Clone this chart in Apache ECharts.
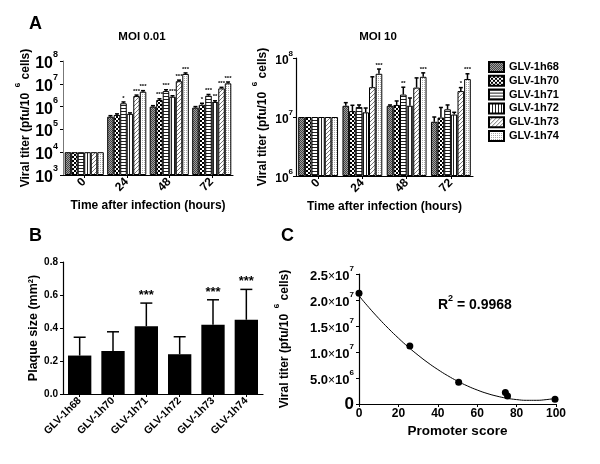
<!DOCTYPE html>
<html><head><meta charset="utf-8">
<script src="https://cdn.jsdelivr.net/npm/echarts@6/dist/echarts.min.js"></script>
<style>html,body{margin:0;padding:0;background:#fff}#c{width:600px;height:464px}</style>
</head><body><div id="c"></div>
<script>
// ---------------- DATA ----------------
const strains = ['GLV-1h68','GLV-1h70','GLV-1h71','GLV-1h72','GLV-1h73','GLV-1h74'];
const timeCats = ['0','24','48','72'];

// Panel A, MOI 0.01 (rows = strains, cols = time points)
const moi001Mean = [
  [1e4, 3.6e5, 1.0e6, 9.0e5],
  [1e4, 4.3e5, 1.95e6, 1.2e6],
  [1e4, 1.4e6, 4.8e6, 3.0e6],
  [1e4, 4.8e5, 2.7e6, 1.6e6],
  [1e4, 2.9e6, 1.3e7, 6.3e6],
  [1e4, 4.5e6, 2.7e7, 1.05e7]
];
const moi001Upper = [
  [1e4, 4.0e5, 1.1e6, 1.0e6],
  [1e4, 4.8e5, 2.2e6, 1.4e6],
  [1e4, 1.6e6, 5.5e6, 3.4e6],
  [1e4, 5.3e5, 3.0e6, 1.8e6],
  [1e4, 3.2e6, 1.45e7, 7.0e6],
  [1e4, 5.0e6, 3.0e7, 1.2e7]
];
const moi001Stars = [
  ['', '', '', ''],
  ['', '', '***', '*'],
  ['', '*', '***', '***'],
  ['', '', '***', '**'],
  ['', '***', '***', '***'],
  ['', '***', '***', '***']
];

// Panel A, MOI 10
const moi10Mean = [
  [1e7, 1.55e7, 1.55e7, 8.3e6],
  [1e7, 1.26e7, 1.6e7, 9.8e6],
  [1e7, 1.48e7, 2.4e7, 1.35e7],
  [1e7, 1.2e7, 1.55e7, 1.1e7],
  [1e7, 3.2e7, 3.15e7, 2.75e7],
  [1e7, 5.4e7, 4.8e7, 4.4e7]
];
const moi10Upper = [
  [1e7, 1.75e7, 1.6e7, 1.0e7],
  [1e7, 1.58e7, 1.87e7, 1.45e7],
  [1e7, 1.6e7, 3.2e7, 1.6e7],
  [1e7, 1.42e7, 2.1e7, 1.2e7],
  [1e7, 4.8e7, 4.6e7, 3.15e7],
  [1e7, 6.5e7, 5.6e7, 5.4e7]
];
const moi10Stars = [
  ['', '', '', ''],
  ['', '', '', ''],
  ['', '', '**', ''],
  ['', '', '', ''],
  ['', '', '', '*'],
  ['', '***', '***', '***']
];

// Panel B
const plaqueMean  = [0.233, 0.261, 0.411, 0.241, 0.419, 0.450];
const plaqueUpper = [0.344, 0.377, 0.551, 0.347, 0.571, 0.634];
const plaqueStars = ['', '', '***', '', '***', '***'];

// Panel C
const promoterScore = [0, 25.8, 50.6, 74.3, 75.4, 99.5];
const titerByScore  = [2.13e7, 1.115e7, 4.2e6, 2.2e6, 1.54e6, 0.9e6];
const fitScore = [0, 5, 10, 15, 20, 25, 30, 35, 40, 45, 50, 55, 60, 65, 70, 75, 80, 85, 90, 95, 100];
const fitTiter = [2.08e7, 1.857e7, 1.647e7, 1.450e7, 1.267e7, 1.096e7, 9.39e6, 7.94e6, 6.63e6, 5.45e6,
                  4.40e6, 3.48e6, 2.69e6, 2.03e6, 1.51e6, 1.11e6, 8.5e5, 7.1e5, 7.1e5, 8.4e5, 1.1e6];
const r2Text = '0.9968';

// ---------------- STYLE ----------------
const FONT = '"Liberation Sans", Arial, Helvetica, sans-serif';
function pat(w, h, fn) {
  const c = document.createElement('canvas'); c.width = w; c.height = h;
  const g = c.getContext('2d'); g.fillStyle = '#fff'; g.fillRect(0, 0, w, h); fn(g);
  return { image: c, repeat: 'repeat' };
}
const patterns = [
  pat(2, 2, g => { g.fillStyle = '#444'; g.fillRect(0,0,1,1); g.fillRect(1,1,1,1); g.fillStyle = '#a0a0a0'; g.fillRect(1,0,1,1); g.fillRect(0,1,1,1); }),
  pat(4, 4, g => { g.fillStyle = '#000'; g.fillRect(0,0,2,2); g.fillRect(2,2,2,2); }),
  pat(1, 3, g => { g.fillStyle = '#222'; g.fillRect(0,0,1,1); }),
  pat(3, 1, g => { g.fillStyle = '#222'; g.fillRect(0,0,1,1); }),
  pat(4, 4, g => { g.fillStyle = '#777'; for (let i = 0; i < 4; i++) g.fillRect(i, 3 - i, 1, 1); }),
  pat(2, 2, g => { g.fillStyle = '#aaa'; g.fillRect(0,0,1,1); })
];

const bold = (size, extra) => Object.assign({ fontFamily: FONT, fontWeight: 'bold', fontSize: size, color: '#000' }, extra || {});
function supRich(big, small) {
  return {
    a: bold(big, { lineHeight: big + 5, verticalAlign: 'bottom' }),
    s: bold(small, { lineHeight: big + 5, verticalAlign: 'top' }),
    x: { fontFamily: FONT, fontSize: big - 1, color: '#000', lineHeight: big + 5, verticalAlign: 'bottom' },
    z: bold(big + 4, { lineHeight: big + 5, verticalAlign: 'bottom' })
  };
}
const logFmt = v => '{a|10}{s|' + Math.round(Math.log10(v)) + '}';
const titerName = '{n|Viral titer (pfu/10 }{s| 6}{n| cells)}';
const nameRich = size => ({ n: bold(size, { lineHeight: size + 6, verticalAlign: 'bottom' }), s: bold(size - 4, { lineHeight: size + 6, verticalAlign: 'top' }) });

function errSeries(name, xi, yi, items, n, gap, cap, lw, starFont) {
  return {
    type: 'custom', name: name, xAxisIndex: xi, yAxisIndex: yi, z: 5,
    data: items.map(it => [it.cat, it.upper]),
    encode: { x: 0, y: 1 },
    renderItem: function (params, api) {
      const it = items[params.dataIndex];
      const band = api.size([1, 0])[0];
      const bw = band * (1 - gap) / n;
      const base = api.coord([it.cat, it.mean]);
      const x = base[0] + (it.bar - (n - 1) / 2) * bw;
      const yM = base[1];
      const yU = api.coord([it.cat, it.upper])[1];
      const ch = [];
      if (it.upper > it.mean) {
        ch.push({ type: 'line', shape: { x1: x, y1: yM, x2: x, y2: yU }, style: { stroke: '#000', lineWidth: lw } });
        ch.push({ type: 'line', shape: { x1: x - cap / 2, y1: yU, x2: x + cap / 2, y2: yU }, style: { stroke: '#000', lineWidth: lw } });
      }
      if (it.star) {
        ch.push({ type: 'text', x: x, y: Math.min(yU, yM) - 1,
          style: { text: it.star, fill: '#000', font: 'bold ' + starFont + 'px ' + FONT, textAlign: 'center', textVerticalAlign: 'bottom' } });
      }
      return { type: 'group', children: ch };
    }
  };
}
function groupItems(mean, upper, stars) {
  const out = [];
  mean.forEach((row, s) => row.forEach((v, c) => out.push({ cat: c, bar: s, mean: v, upper: upper[s][c], star: stars[s][c] })));
  return out;
}

// ---------------- OPTION ----------------
const series = [];
strains.forEach((nm, i) => {
  series.push({ type: 'bar', name: nm, xAxisIndex: 0, yAxisIndex: 0, data: moi001Mean[i],
    barGap: '0%', barCategoryGap: '8%', clip: true,
    itemStyle: { color: patterns[i], borderColor: '#000', borderWidth: 1 } });
});
strains.forEach((nm, i) => {
  series.push({ type: 'bar', name: nm, xAxisIndex: 1, yAxisIndex: 1, data: moi10Mean[i],
    barGap: '0%', barCategoryGap: '10%', clip: true,
    itemStyle: { color: patterns[i], borderColor: '#000', borderWidth: 1 } });
});
series.push(errSeries('errA1', 0, 0, groupItems(moi001Mean, moi001Upper, moi001Stars), 6, 0.08, 4, 1.5, 6));
series.push(errSeries('errA2', 1, 1, groupItems(moi10Mean, moi10Upper, moi10Stars), 6, 0.10, 4, 1.5, 6));
series.push({ type: 'bar', name: 'plaque', xAxisIndex: 2, yAxisIndex: 2, data: plaqueMean,
  barCategoryGap: '30%', itemStyle: { color: '#000' } });
series.push(errSeries('errB', 2, 2, plaqueMean.map((v, i) => ({ cat: i, bar: 0, mean: v, upper: plaqueUpper[i], star: plaqueStars[i] })), 1, 0.3, 12, 1.5, 13));
series.push({ type: 'line', name: 'fit', xAxisIndex: 3, yAxisIndex: 3, data: fitScore.map((x, i) => [x, fitTiter[i]]),
  smooth: true, showSymbol: false, symbol: 'none', lineStyle: { color: '#000', width: 1 }, z: 2 });
series.push({ type: 'scatter', name: 'points', xAxisIndex: 3, yAxisIndex: 3, data: promoterScore.map((x, i) => [x, titerByScore[i]]),
  symbolSize: 7, itemStyle: { color: '#000', opacity: 1 }, z: 3 });

const axisLineBlack = { show: true, lineStyle: { color: '#000', width: 1.2 } };
const tickOut = { show: true, length: 3, inside: false, lineStyle: { color: '#000', width: 1 } };

const option = {
  animation: false,
  backgroundColor: '#fff',
  grid: [
    { left: 63, top: 61, width: 170, height: 114, outerBoundsMode: 'none' },
    { left: 296, top: 58, width: 177, height: 118, outerBoundsMode: 'none' },
    { left: 63, top: 262, width: 200, height: 132, outerBoundsMode: 'none' },
    { left: 359, top: 274, width: 197, height: 130, outerBoundsMode: 'none' }
  ],
  legend: {
    data: strains, orient: 'vertical', left: 483, top: 56,
    itemWidth: 15, itemHeight: 10, itemGap: 1.8, icon: 'rect',
    textStyle: bold(11, { lineHeight: 11 }), selectedMode: false
  },
  xAxis: [
    { gridIndex: 0, type: 'category', data: timeCats, axisLine: axisLineBlack,
      axisTick: Object.assign({ alignWithLabel: true }, tickOut),
      axisLabel: bold(12, { rotate: 45, margin: 5 }),
      name: 'Time after infection (hours)', nameLocation: 'middle', nameGap: 25, nameTextStyle: bold(12) },
    { gridIndex: 1, type: 'category', data: timeCats, axisLine: axisLineBlack,
      axisTick: Object.assign({ alignWithLabel: true }, tickOut),
      axisLabel: bold(12, { rotate: 45, margin: 5 }),
      name: 'Time after infection (hours)', nameLocation: 'middle', nameGap: 25, nameTextStyle: bold(12) },
    { gridIndex: 2, type: 'category', data: strains, axisLine: axisLineBlack,
      axisTick: Object.assign({ alignWithLabel: true }, tickOut),
      axisLabel: bold(10.5, { rotate: 45, margin: 5, interval: 0 }) },
    { gridIndex: 3, type: 'value', min: 0, max: 100, interval: 20, axisLine: axisLineBlack, axisTick: tickOut,
      splitLine: { show: false }, axisLabel: bold(12, { margin: 4 }),
      name: 'Promoter score', nameLocation: 'middle', nameGap: 20, nameTextStyle: bold(13.5) }
  ],
  yAxis: [
    { gridIndex: 0, type: 'log', logBase: 10, min: 1e3, max: 1e8, splitNumber: 5, startValue: 1e3,
      axisLine: { show: true, lineStyle: { color: '#777', width: 1 } }, axisTick: tickOut, splitLine: { show: false },
      axisLabel: { formatter: logFmt, rich: supRich(16, 9), margin: 5 },
      name: titerName, nameLocation: 'middle', nameGap: 27, nameTextStyle: { rich: nameRich(12) } },
    { gridIndex: 1, type: 'log', logBase: 10, min: 1e6, max: 1e8, splitNumber: 2, startValue: 1e6,
      axisLine: axisLineBlack, axisTick: tickOut, splitLine: { show: false },
      axisLabel: { formatter: logFmt, rich: supRich(12, 8), margin: 3 },
      name: titerName, nameLocation: 'middle', nameGap: 27, nameTextStyle: { rich: nameRich(12) } },
    { gridIndex: 2, type: 'value', min: 0, max: 0.8, interval: 0.2,
      axisLine: axisLineBlack, axisTick: tickOut, splitLine: { show: false },
      axisLabel: bold(10, { formatter: v => v.toFixed(1), margin: 5 }),
      name: 'Plaque size (mm²)', nameLocation: 'middle', nameGap: 23, nameTextStyle: bold(12.5) },
    { gridIndex: 3, type: 'value', min: 0, max: 2.5e7, interval: 5e6,
      axisLine: axisLineBlack, axisTick: tickOut, splitLine: { show: false },
      axisLabel: {
        margin: 5, rich: supRich(13, 8),
        formatter: v => {
          if (v === 0) return '{z|0}';
          const e = Math.floor(Math.log10(v) + 1e-9);
          return '{a|' + (v / Math.pow(10, e)).toFixed(1) + '}{x|×}{a|10}{s|' + e + '}';
        }
      },
      name: titerName, nameLocation: 'middle', nameGap: 68, nameTextStyle: { rich: nameRich(12) } }
  ],
  graphic: [
    { type: 'text', left: 29, top: 15, style: { text: 'A', font: 'bold 18px ' + FONT, fill: '#000' } },
    { type: 'text', left: 29, top: 227, style: { text: 'B', font: 'bold 18px ' + FONT, fill: '#000' } },
    { type: 'text', left: 281, top: 227, style: { text: 'C', font: 'bold 18px ' + FONT, fill: '#000' } },
    { type: 'text', x: 142, y: 37, style: { text: 'MOI 0.01', font: 'bold 11.5px ' + FONT, fill: '#000', textAlign: 'center', textVerticalAlign: 'middle' } },
    { type: 'text', x: 378, y: 37, style: { text: 'MOI 10', font: 'bold 11.5px ' + FONT, fill: '#000', textAlign: 'center', textVerticalAlign: 'middle' } },
    { type: 'text', x: 438, y: 303, style: {
        text: '{r|R}{s|2}{r| = ' + r2Text + '}', textVerticalAlign: 'middle',
        rich: { r: bold(14, { lineHeight: 18, verticalAlign: 'bottom' }), s: bold(9, { lineHeight: 18, verticalAlign: 'top' }) } } }
  ],
  series: series
};
const chart = echarts.init(document.getElementById('c'), null, { renderer: 'canvas' });
chart.setOption(option);
</script></body></html>
